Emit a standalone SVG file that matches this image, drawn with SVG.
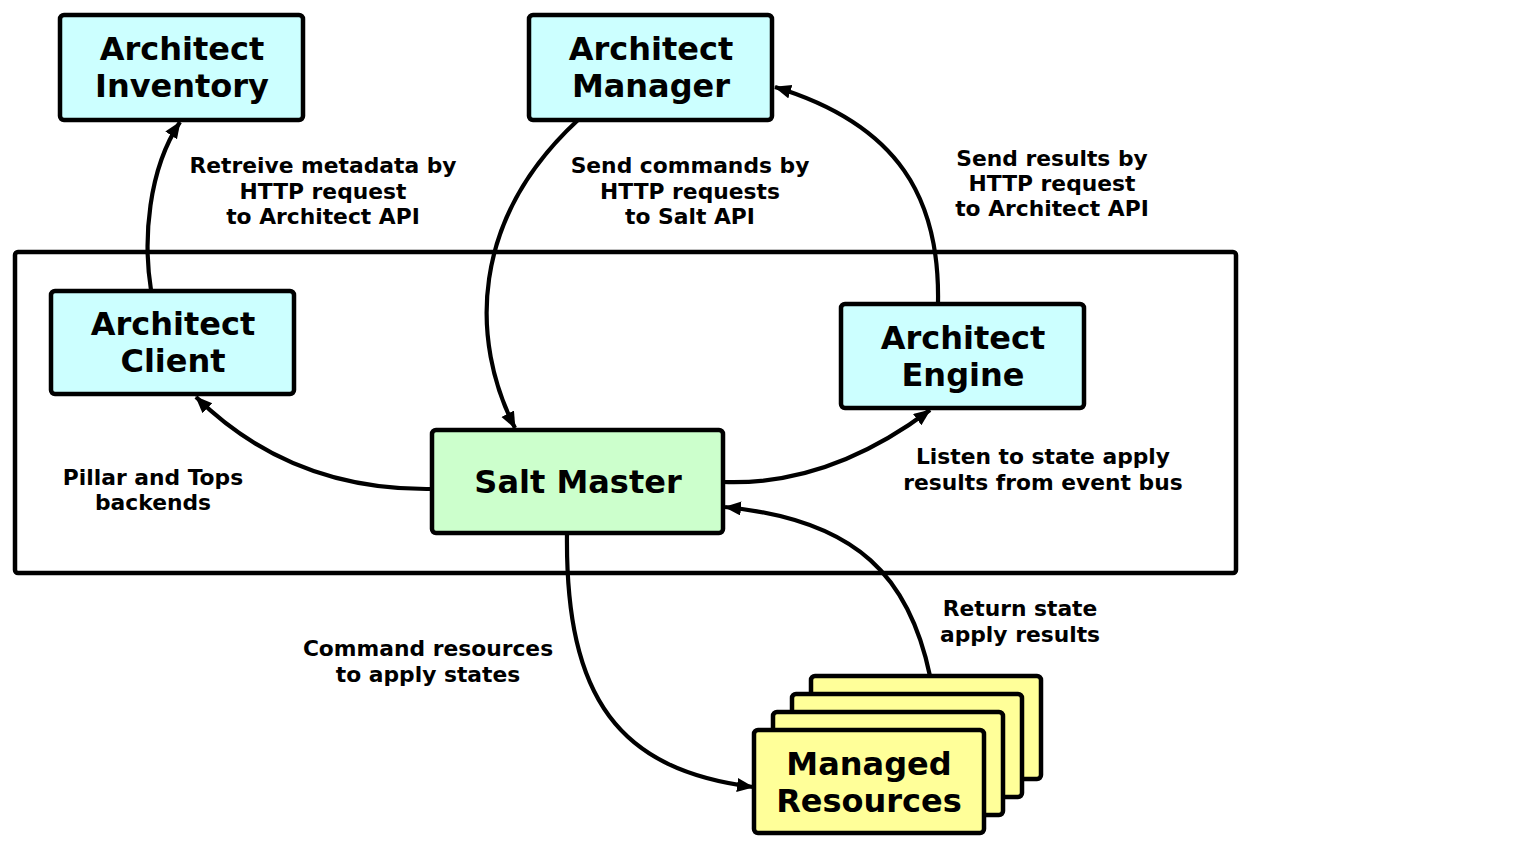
<svg xmlns="http://www.w3.org/2000/svg" width="1515" height="849" viewBox="0 0 1515 849">
<style>
.box{stroke:#000;stroke-width:4.5}
.cyan{fill:#ccffff}
.green{fill:#ccffcc}
.yellow{fill:#ffff99}
.nt{font-family:"DejaVu Sans",sans-serif;font-weight:bold;font-size:32px;text-anchor:middle;fill:#000}
.lt{font-family:"DejaVu Sans",sans-serif;font-weight:bold;font-size:21.8px;text-anchor:middle;fill:#000}
.edge{fill:none;stroke:#000;stroke-width:4.2;marker-end:url(#ah)}
</style>
<defs>
<marker id="ah" markerUnits="userSpaceOnUse" markerWidth="20" markerHeight="16" refX="16" refY="7" orient="auto">
<path d="M0,0 L17,7 L0,14 z" fill="#000"/>
</marker>
</defs>
<rect x="0" y="0" width="1515" height="849" fill="#fff"/>
<g id="container">
<rect x="15" y="252" width="1221" height="321" rx="3" fill="none" stroke="#000" stroke-width="4.5"/>
</g>
<g id="connectors">
<path class="edge" d="M151,290 C143,240 148,170 180,122"/>
<path class="edge" d="M578,120 C470,220 470,340 515,428"/>
<path class="edge" d="M938,303 C940,200 900,125 775,87"/>
<path class="edge" d="M431,489 C340,490 260,460 196,397"/>
<path class="edge" d="M723,482 C800,485 870,455 930,410"/>
<path class="edge" d="M930,676 C910,580 860,520 725,507"/>
<path class="edge" d="M567,533 C565,700 620,770 753,787"/>
</g>
<g id="labels">
<text class="lt" x="323" y="173">Retreive metadata by</text>
<text class="lt" x="323" y="199">HTTP request</text>
<text class="lt" x="323" y="224">to Architect API</text>
<text class="lt" x="690" y="173">Send commands by</text>
<text class="lt" x="690" y="199">HTTP requests</text>
<text class="lt" x="690" y="224">to Salt API</text>
<text class="lt" x="1052" y="166">Send results by</text>
<text class="lt" x="1052" y="191">HTTP request</text>
<text class="lt" x="1052" y="216">to Architect API</text>
<text class="lt" x="153" y="485">Pillar and Tops</text>
<text class="lt" x="153" y="510">backends</text>
<text class="lt" x="1043" y="464">Listen to state apply</text>
<text class="lt" x="1043" y="490">results from event bus</text>
<text class="lt" x="1020" y="616">Return state</text>
<text class="lt" x="1020" y="642">apply results</text>
<text class="lt" x="428" y="656">Command resources</text>
<text class="lt" x="428" y="682">to apply states</text>
</g>
<g id="inventory">
<rect class="box cyan" x="60" y="15" width="243" height="105" rx="4"/>
<text class="nt" x="182" y="60">Architect</text>
<text class="nt" x="182" y="97">Inventory</text>
</g>
<g id="manager">
<rect class="box cyan" x="529" y="15" width="243" height="105" rx="4"/>
<text class="nt" x="651" y="60">Architect</text>
<text class="nt" x="651" y="97">Manager</text>
</g>
<g id="client">
<rect class="box cyan" x="51" y="291" width="243" height="103" rx="4"/>
<text class="nt" x="173" y="335">Architect</text>
<text class="nt" x="173" y="372">Client</text>
</g>
<g id="engine">
<rect class="box cyan" x="841" y="304" width="243" height="104" rx="4"/>
<text class="nt" x="963" y="349">Architect</text>
<text class="nt" x="963" y="386">Engine</text>
</g>
<g id="salt-master">
<rect class="box green" x="432" y="430" width="291" height="103" rx="4"/>
<text class="nt" x="578" y="493">Salt Master</text>
</g>
<g id="managed-resources">
<rect class="box yellow" x="811" y="676" width="230" height="103" rx="4"/>
<rect class="box yellow" x="792" y="694" width="230" height="103" rx="4"/>
<rect class="box yellow" x="773" y="712" width="230" height="103" rx="4"/>
<rect class="box yellow" x="754" y="730" width="230" height="103" rx="4"/>
<text class="nt" x="869" y="775">Managed</text>
<text class="nt" x="869" y="812">Resources</text>
</g>
</svg>
